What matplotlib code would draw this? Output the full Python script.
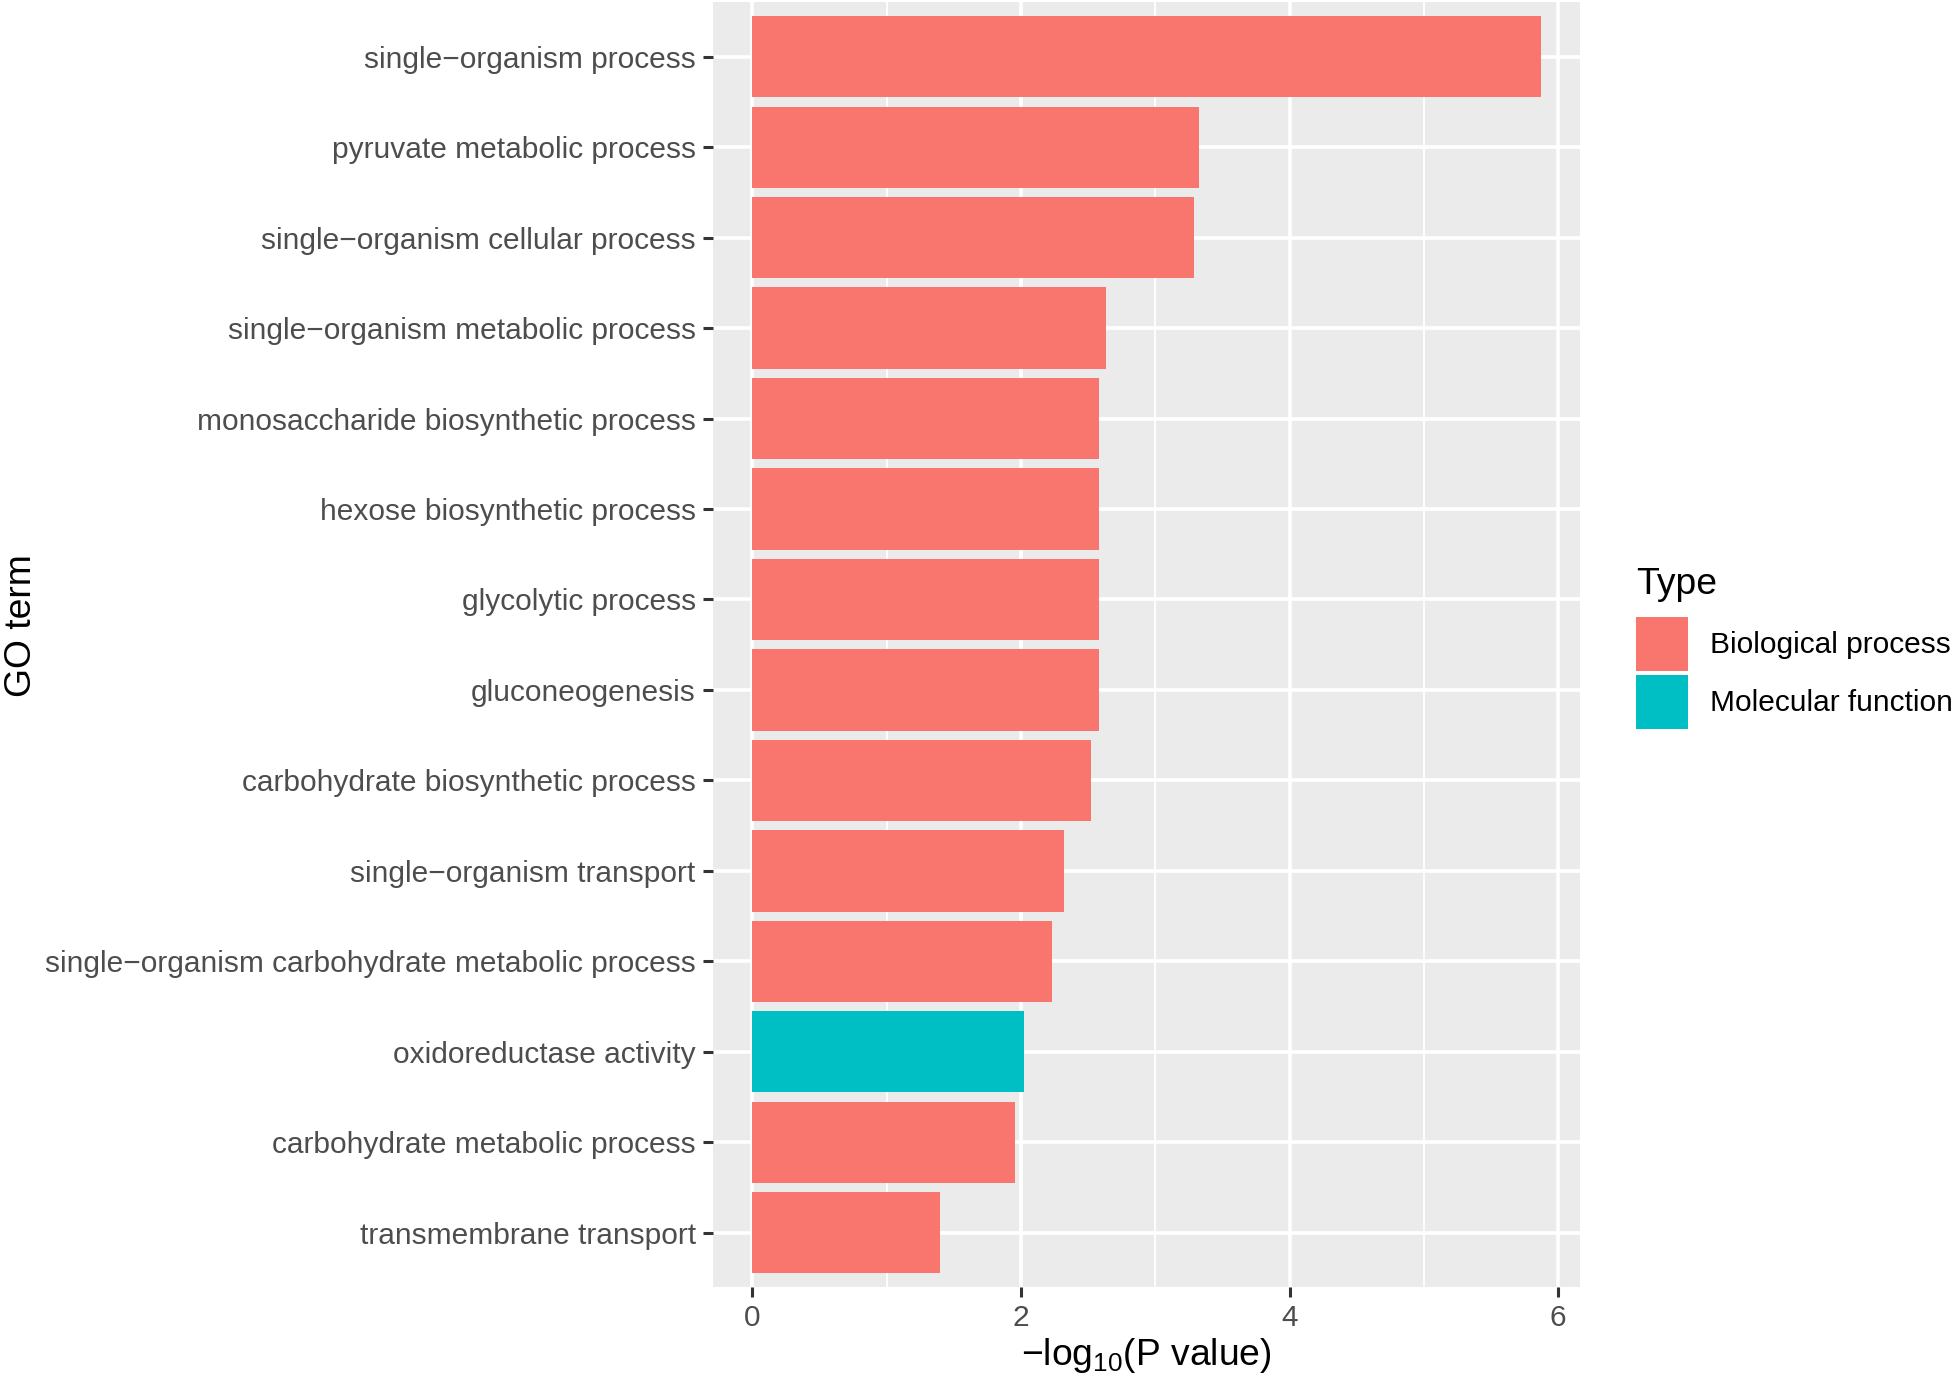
import matplotlib
matplotlib.use("Agg")
import matplotlib.pyplot as plt
from matplotlib.patches import Patch

plt.rcParams['font.family'] = ['Liberation Sans', 'DejaVu Sans']
plt.rcParams['mathtext.default'] = 'regular'

# GO terms, listed top to bottom as in the chart
terms = [
    "single−organism process",
    "pyruvate metabolic process",
    "single−organism cellular process",
    "single−organism metabolic process",
    "monosaccharide biosynthetic process",
    "hexose biosynthetic process",
    "glycolytic process",
    "gluconeogenesis",
    "carbohydrate biosynthetic process",
    "single−organism transport",
    "single−organism carbohydrate metabolic process",
    "oxidoreductase activity",
    "carbohydrate metabolic process",
    "transmembrane transport",
]
neg_log_p = [5.87, 3.325, 3.29, 2.635, 2.582, 2.582, 2.582, 2.582,
             2.52, 2.317, 2.232, 2.019, 1.954, 1.395]
types = ["Biological process"] * 11 + ["Molecular function"] + ["Biological process"] * 2

type_colors = {"Biological process": "#F8766D", "Molecular function": "#00BFC4"}

fig = plt.figure(figsize=(19.55, 13.81), dpi=100)
ax = fig.add_axes([0.3647, 0.0681, 0.4435, 0.9301])

ypos = list(range(len(terms), 0, -1))
ax.barh(ypos, neg_log_p, height=0.9,
        color=[type_colors[t] for t in types], zorder=3)

ax.set_facecolor('#EBEBEB')
ax.set_ylim(0.4, len(terms) + 0.6)
xmax = max(neg_log_p)
ax.set_xlim(-0.05 * xmax, 1.05 * xmax)
ax.set_yticks(ypos)
ax.set_yticklabels(terms)
ax.set_xticks([0, 2, 4, 6])
ax.set_xticks([1, 3, 5], minor=True)

ax.grid(which='major', color='white', lw=2.6)
ax.grid(which='minor', axis='x', color='white', lw=1.3)
ax.set_axisbelow(True)
for s in ax.spines.values():
    s.set_visible(False)
ax.tick_params(which='major', length=7, width=2.2, color='#333333',
               labelsize=21.5, labelcolor='#4D4D4D', pad=5.5)
ax.tick_params(which='minor', length=0)

ax.set_xlabel("−log$_{10}$(P value)", fontsize=26.8, labelpad=3)
ax.set_ylabel("GO term", fontsize=26.8, labelpad=4)
ax.yaxis.label.set_y(0.515)

handles = [Patch(facecolor=c, edgecolor='none', label=k) for k, c in type_colors.items()]
leg = fig.legend(handles=handles, title="Type", loc='upper left',
                 bbox_to_anchor=(1636 / 1955, 1 - 567 / 1381),
                 frameon=False, fontsize=21.5, title_fontsize=26.8,
                 handlelength=1.74, handleheight=2.39, handletextpad=0.73,
                 labelspacing=0.13, borderpad=0, borderaxespad=0,
                 alignment='left')
leg._legend_box.sep = 11

fig.savefig("out.png", dpi=100)
